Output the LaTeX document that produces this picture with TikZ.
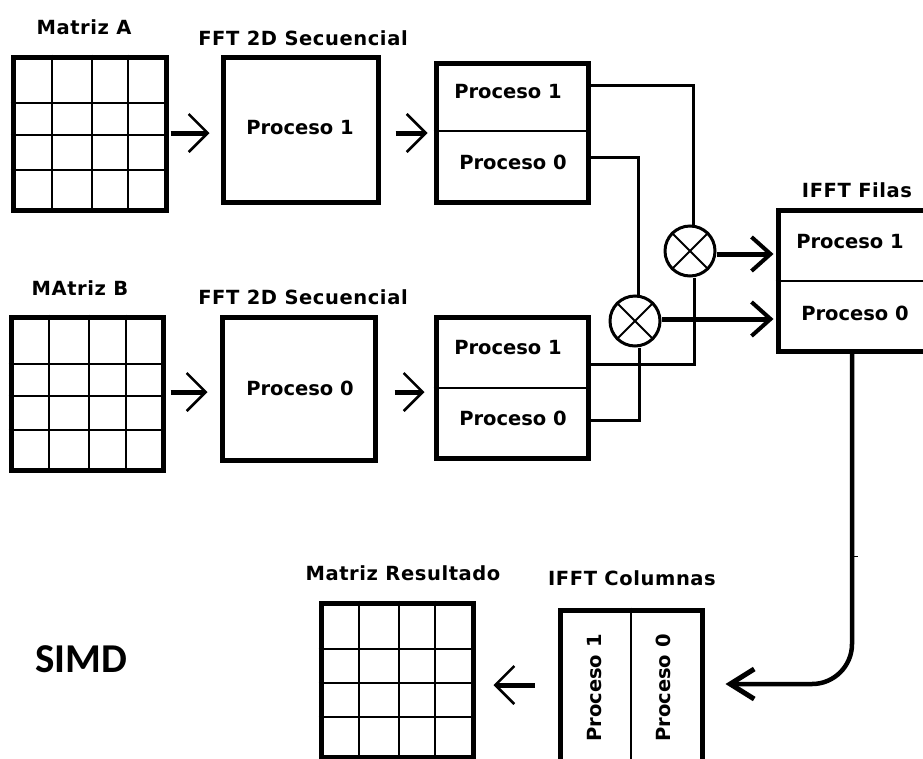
\documentclass[tikz,border=0pt]{standalone}
\usepackage{fontspec}
\setmainfont{DejaVu Sans}
\newfontfamily\lblfont{DejaVu Sans}[LetterSpace=3]
\newfontfamily\simdfont{Carlito}
\usetikzlibrary{arrows.meta}
\begin{document}
\begin{tikzpicture}[x=1pt,y=-1pt,
  blk/.style={draw, line width=5pt, inner sep=0pt},
  gridln/.style={line width=2pt},
  divln/.style={line width=1.5pt},
  wire/.style={line width=3pt},
  proc/.style={font=\bfseries\fontsize{19.5}{21}\selectfont, inner sep=0pt},
  lbl/.style={font=\lblfont\bfseries\fontsize{19.5}{21}\selectfont, inner sep=0pt},
  xcirc/.style={draw, circle, line width=3pt, minimum size=50pt, inner sep=0pt},
  arrA/.style={line width=5pt, -{Straight Barb[length=19pt,width=38pt,line width=2.5pt]}},
  arrB/.style={line width=5pt, -{Straight Barb[length=19pt,width=34pt,line width=4pt]}},
  arrC/.style={line width=4.5pt, -{Straight Barb[length=24pt,width=30pt,line width=5pt]}},
]
\clip (0,0) rectangle (923,758);
\fill[white] (0,0) rectangle (923,758);

% ---------- input matrices ----------
\node[blk, minimum width=153pt, minimum height=153pt] (ma) at (89.5,133.5) {};
\foreach \x in {52,92,128} \draw[gridln] (ma.north -| \x,0) -- (ma.south -| \x,0);
\foreach \y in {103,135,170} \draw[gridln] (ma.west |- 0,\y) -- (ma.east |- 0,\y);
\node[lbl] (lma) at (84,27) {Matriz A};

\node[blk, minimum width=152pt, minimum height=153pt] (mb) at (87,393.5) {};
\foreach \x in {49,89,126} \draw[gridln] (mb.north -| \x,0) -- (mb.south -| \x,0);
\foreach \y in {364,396,430} \draw[gridln] (mb.west |- 0,\y) -- (mb.east |- 0,\y);
\node[lbl] (lmb) at (80,288) {MAtriz B};

% ---------- sequential 2D FFT ----------
\node[blk, minimum width=155pt, minimum height=145pt] (f1) at (300.5,129.5) {};
\node[proc] (f1t) at (300,128) {Proceso 1};
\node[lbl] (lf1) at (303,38) {FFT 2D Secuencial};

\node[blk, minimum width=153pt, minimum height=143pt] (f2) at (298.5,388.5) {};
\node[proc] (f2t) at (300,388) {Proceso 0};
\node[lbl] (lf2) at (303,297) {FFT 2D Secuencial};

% ---------- split results ----------
\node[blk, minimum width=152pt, minimum height=139pt] (pa) at (512,132.5) {};
\draw[divln] (pa.west |- 0,131) -- (pa.east |- 0,131);
\node[proc] (pa1) at (508,92) {Proceso 1};
\node[proc] (pa0) at (513,162) {Proceso 0};

\node[blk, minimum width=152pt, minimum height=141pt] (pb) at (512,387.5) {};
\draw[divln] (pb.west |- 0,388) -- (pb.east |- 0,388);
\node[proc] (pb1) at (508,348) {Proceso 1};
\node[proc] (pb0) at (513,418) {Proceso 0};

% ---------- arrows into the FFT stages ----------
\draw[arrA, shorten <=2pt, shorten >=11pt] (ma.east |- 0,133) -- (f1.west |- 0,133);
\draw[arrA, shorten <=15pt, shorten >=6pt] (f1.east |- 0,133) -- (pa.west |- 0,133);
\draw[arrA, shorten <=5pt, shorten >=12pt] (mb.east |- 0,392) -- (f2.west |- 0,392);
\draw[arrA, shorten <=17pt, shorten >=9pt] (f2.east |- 0,392) -- (pb.west |- 0,392);

% ---------- pointwise products ----------
\node[xcirc] (c1) at (690,251) {};
\draw[line width=2pt] (c1.45) -- (c1.225) (c1.135) -- (c1.315);
\node[xcirc] (c2) at (635,321) {};
\draw[line width=2pt] (c2.45) -- (c2.225) (c2.135) -- (c2.315);

\draw[wire] (pa.east |- 0,85) -| ([xshift=3pt]c1.north);
\draw[wire] (pa.east |- 0,157) -| ([xshift=3pt]c2.north);
\draw[wire] ([xshift=4pt]c1.south) |- (pb.east |- 0,364);
\draw[wire] ([xshift=4pt]c2.south) |- (pb.east |- 0,420);

% ---------- inverse FFT on rows ----------
\node[blk, minimum width=167pt, minimum height=141pt] (fi) at (861.5,280.5) {};
\draw[divln] (fi.west |- 0,281) -- (fi.east |- 0,281);
\node[proc] (fi1) at (850,242) {Proceso 1};
\node[proc] (fi0) at (855,313) {Proceso 0};
\node[lbl] (lfi) at (857,190) {IFFT Filas};

\draw[arrB, shorten >=2pt] ([yshift=-3pt]c1.east) -- ([yshift=-3pt]c1.east -| fi.west);
\draw[arrB, shorten >=2pt] ([yshift=2pt]c2.east) -- ([yshift=2pt]c2.east -| fi.west);

% ---------- inverse FFT on columns ----------
\node[blk, minimum width=142pt, minimum height=180pt] (co) at (631,700) {};
\draw[divln] (co.north -| 631,0) -- (co.south -| 631,0);
\node[proc, rotate=90] (co1) at (595,688) {Proceso 1};
\node[proc, rotate=90] (co0) at (663,688) {Proceso 0};
\node[lbl] (lco) at (632,578) {IFFT Columnas};

\draw[arrC, rounded corners=40pt, shorten >=21pt] (fi.south -| 852,0) -- (852,684) -- (co.east |- 0,684);
\draw[line width=1pt] (852,556) -- (858,556);

% ---------- result matrix ----------
\node[blk, minimum width=152pt, minimum height=154pt] (mr) at (397,680) {};
\foreach \x in {359,399,435} \draw[gridln] (mr.north -| \x,0) -- (mr.south -| \x,0);
\foreach \y in {649,683,717} \draw[gridln] (mr.west |- 0,\y) -- (mr.east |- 0,\y);
\node[lbl] (lmr) at (403,573) {Matriz Resultado};

\draw[arrA, shorten <=23pt, shorten >=18pt] (co.west |- 0,685) -- (mr.east |- 0,685);

% ---------- model tag ----------
\node[font=\simdfont\bfseries\fontsize{41}{41}\selectfont, inner sep=0pt] (simd) at (81,659) {SIMD};
\end{tikzpicture}
\end{document}
